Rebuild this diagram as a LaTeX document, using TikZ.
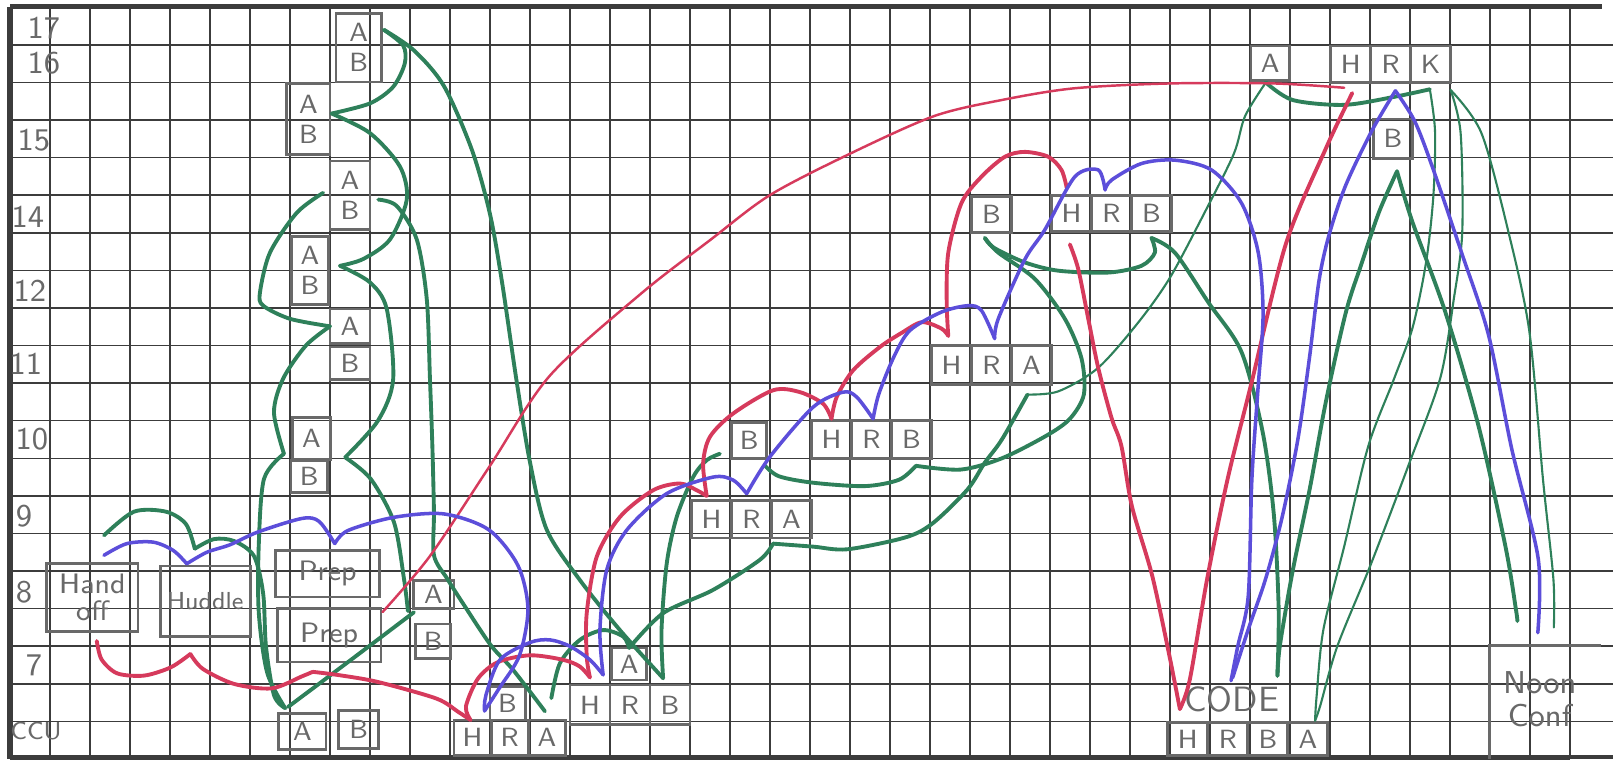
\documentclass[tikz,border=0pt]{standalone}
\usepackage{tikz}
\usetikzlibrary{positioning}
\definecolor{pengreen}{RGB}{46,128,90}
\definecolor{penred}{RGB}{214,58,92}
\definecolor{penblue}{RGB}{92,78,218}
\definecolor{pencil}{RGB}{105,105,105}
\definecolor{gridgray}{RGB}{60,60,60}
\newcommand{\cellw}{0.4cm}
\newcommand{\cellh}{0.376cm}
\begin{document}
\begin{tikzpicture}[x=0.4cm,y=0.376cm,
    cellbox/.style={draw=pencil,line width=0.8pt,inner sep=0pt,outer sep=0pt,
      minimum width=\cellw,minimum height=\cellh,font=\sffamily\fontsize{7.5}{8.5}\selectfont,text=pencil,align=center},
    rowcell/.style={cellbox,minimum width=\cellw,minimum height=\cellh},
    bigbox/.style={cellbox,font=\sffamily\fontsize{8}{7.5}\selectfont},
    rowlabel/.style={font=\sffamily\small,text=pencil,inner sep=0pt},
    greenpen/.style={draw=pengreen,line width=1.1pt,line cap=round,line join=round},
    thingreen/.style={greenpen,line width=0.6pt},
    redpen/.style={draw=penred,line width=1.1pt,line cap=round,line join=round},
    thinred/.style={redpen,line width=0.7pt},
    bluepen/.style={draw=penblue,line width=1pt,line cap=round,line join=round}]
  \useasboundingbox (-0.25,0.19) rectangle (40.08,-20.0);
  \fill[white] (-0.25,0.19) rectangle (40.08,-20.0);

  % grid paper
  \draw[gridgray,line width=0.45pt,xstep=1,ystep=1] (0,-20) grid (39,0);
  \foreach \k in {1,...,19} \draw[gridgray,line width=0.45pt] (39,-\k) -- (40.1,-\k);
  \draw[gridgray,line width=1.6pt] (0,0.02) -- (39.8,0.02);
  \draw[gridgray,line width=1.6pt] (0,0) -- (0,-20);
  \draw[gridgray,line width=1pt] (0,-19.95) -- (40.1,-19.95);

  % hours
  \node[rowlabel] (l17) at (0.85,-0.55) {17};
  \node[rowlabel] (l16) at (0.85,-1.5) {16};
  \node[rowlabel] (l15) at (0.6,-3.55) {15};
  \node[rowlabel] (l14) at (0.45,-5.58) {14};
  \node[rowlabel] (l12) at (0.5,-7.54) {12};
  \node[rowlabel] (l11) at (0.4,-9.5) {11};
  \node[rowlabel] (l10) at (0.55,-11.5) {10};
  \node[rowlabel] (l9) at (0.35,-13.55) {9};
  \node[rowlabel] (l8) at (0.35,-15.55) {8};
  \node[rowlabel] (l7) at (0.6,-17.5) {7};
  \node[rowlabel,font=\sffamily\scriptsize] (lccu) at (0.65,-19.25) {CCU};

  % left column
  \node[cellbox,minimum width=1.14*\cellw,minimum height=1.83*\cellh] (s1) at (8.72,-1.075) {A\\B};
  \node[cellbox,minimum width=1.08*\cellw,minimum height=1.9*\cellh] (s2) at (7.46,-2.98) {A\\B};
  \node[cellbox,minimum width=1.0*\cellw,minimum height=1.81*\cellh] (s3) at (8.5,-5.0) {A\\B};
  \node[cellbox,minimum width=0.92*\cellw,minimum height=1.81*\cellh] (s4) at (7.5,-7.0) {A\\B};
  \node[cellbox,minimum width=\cellw,minimum height=0.92*\cellh] (a5) at (8.5,-8.49) {A};
  \node[cellbox,minimum width=\cellw,minimum height=0.86*\cellh] (b5) at (8.5,-9.47) {B};
  \node[cellbox,minimum width=0.96*\cellw,minimum height=1.11*\cellh] (a10) at (7.54,-11.47) {A};
  \node[cellbox,minimum width=0.91*\cellw,minimum height=0.84*\cellh] (b10) at (7.48,-12.48) {B};
  \node[bigbox,minimum width=2.28*\cellw,minimum height=1.8*\cellh] (handoff) at (2.06,-15.7) {Hand\\off};
  \node[bigbox,minimum width=2.25*\cellw,minimum height=1.87*\cellh,font=\sffamily\fontsize{7}{7}\selectfont] (huddle) at (4.88,-15.8) {Huddle};
  \node[bigbox,minimum width=2.59*\cellw,minimum height=1.24*\cellh] (prep1) at (7.94,-15.07) {Prep};
  \node[bigbox,minimum width=2.59*\cellw,minimum height=1.42*\cellh] (prep2) at (7.98,-16.71) {Prep};
  \node[cellbox,minimum width=1.02*\cellw,minimum height=0.75*\cellh] (a8) at (10.59,-15.62) {A};
  \node[cellbox,minimum width=0.88*\cellw,minimum height=0.93*\cellh] (b8) at (10.58,-16.87) {B};
  \node[cellbox,minimum width=1.18*\cellw,minimum height=0.97*\cellh] (ccuA) at (7.31,-19.27) {A};
  \node[cellbox,minimum width=1.0*\cellw,minimum height=1.02*\cellh] (ccuB) at (8.72,-19.21) {B};

  % rows of H R A / H R B
  \node[rowcell,minimum width=0.93*\cellw,minimum height=0.94*\cellh] (hra1-h) at (11.565,-19.43) {H};
  \node[rowcell,minimum width=0.93*\cellw,minimum height=0.94*\cellh,right=0pt of hra1-h] (hra1-r) {R};
  \node[rowcell,minimum width=0.93*\cellw,minimum height=0.94*\cellh,right=0pt of hra1-r] (hra1-a) {A};
  \node[cellbox,minimum width=0.88*\cellw,minimum height=0.89*\cellh] (b1) at (12.44,-18.515) {B};

  \node[rowcell,minimum height=1.06*\cellh] (hrb1-h) at (14.5,-18.56) {H};
  \node[rowcell,minimum height=1.06*\cellh,right=0pt of hrb1-h] (hrb1-r) {R};
  \node[rowcell,minimum height=1.06*\cellh,right=0pt of hrb1-r] (hrb1-b) {B};
  \node[cellbox,minimum width=0.88*\cellw,minimum height=0.85*\cellh] (a2) at (15.48,-17.47) {A};

  \node[rowcell] (hra2-h) at (17.54,-13.62) {H};
  \node[rowcell,right=0pt of hra2-h] (hra2-r) {R};
  \node[rowcell,right=0pt of hra2-r] (hra2-a) {A};
  \node[cellbox,minimum width=0.88*\cellw,minimum height=0.96*\cellh] (b2) at (18.48,-11.52) {B};

  \node[rowcell] (hrb2-h) at (20.54,-11.5) {H};
  \node[rowcell,right=0pt of hrb2-h] (hrb2-r) {R};
  \node[rowcell,right=0pt of hrb2-r] (hrb2-b) {B};

  \node[rowcell,minimum height=1.05*\cellh] (hra3-h) at (23.54,-9.52) {H};
  \node[rowcell,minimum height=1.05*\cellh,right=0pt of hra3-h] (hra3-r) {R};
  \node[rowcell,minimum height=1.05*\cellh,right=0pt of hra3-r] (hra3-a) {A};
  \node[cellbox,minimum width=\cellw,minimum height=0.96*\cellh] (b3) at (24.54,-5.52) {B};

  \node[rowcell,minimum height=0.96*\cellh] (hrb3-h) at (26.54,-5.48) {H};
  \node[rowcell,minimum height=0.96*\cellh,right=0pt of hrb3-h] (hrb3-r) {R};
  \node[rowcell,minimum height=0.96*\cellh,right=0pt of hrb3-r] (hrb3-b) {B};

  \node[cellbox,minimum width=0.96*\cellw,minimum height=0.91*\cellh] (a4) at (31.51,-1.49) {A};
  \node[rowcell,minimum height=0.97*\cellh] (hrk-h) at (33.52,-1.52) {H};
  \node[rowcell,minimum height=0.97*\cellh,right=0pt of hrk-h] (hrk-r) {R};
  \node[rowcell,minimum height=0.97*\cellh,right=0pt of hrk-r] (hrk-k) {K};
  \node[cellbox,minimum width=0.96*\cellw,minimum height=1.05*\cellh] (b4) at (34.58,-3.5) {B};

  % code and noon conference
  \node[font=\sffamily\fontsize{10}{11}\selectfont,text=pencil,inner sep=0pt] (code) at (30.55,-18.42) {CODE};
  \node[rowcell,minimum height=0.88*\cellh] (hrba-h) at (29.45,-19.47) {H};
  \node[rowcell,minimum height=0.88*\cellh,right=0pt of hrba-h] (hrba-r) {R};
  \node[rowcell,minimum height=0.88*\cellh,right=0pt of hrba-r] (hrba-b) {B};
  \node[rowcell,minimum height=0.88*\cellh,right=0pt of hrba-b] (hrba-a) {A};
  \node[inner sep=0pt,outer sep=0pt,minimum width=2.78*\cellw,minimum height=3.0*\cellh] (noonbox) at (38.39,-18.49) {};
  \draw[pencil,line width=0.8pt] (noonbox.south west) |- (noonbox.north east);
  \node[font=\sffamily\fontsize{9}{9.5}\selectfont,text=pencil,align=center] (noon) at (38.25,-18.4) {Noon\\Conf};

  % green: left column
  \draw[greenpen] plot[smooth] coordinates {([shift={(0.06,0.47)}]s1.east) (9.83,-1.02) (9.87,-1.5) (9.58,-2.12) (9.0,-2.56) ([shift={(0.04,0.15)}]s2.east)};
  \draw[greenpen] plot[smooth] coordinates {([shift={(0.06,0.47)}]s1.east) (10.1,-1.15) (10.85,-2.1) (11.55,-3.8) (12.0,-5.5) (12.3,-7.3) (12.66,-9.9) (13.0,-12.1) (13.42,-13.9) (14.25,-15.24) (15.25,-16.57) ([shift={(-0.17,0.18)}]hrb1-b.north)};
  \draw[greenpen] plot[smooth] coordinates {([shift={(0.04,0.15)}]s2.east) (9.0,-3.35) (9.75,-4.24) (9.92,-5.12) (9.5,-6.18) (8.83,-6.7) ([shift={(0.29,0.12)}]s4.east)};
  \draw[greenpen] plot[smooth] coordinates {([shift={(0.29,0.12)}]s4.east) (9.0,-7.32) (9.42,-8.03) (9.58,-9.9) (9.2,-11.0) ([shift={(0.36,0.05)}]a10.south east)};
  \draw[greenpen] plot[smooth] coordinates {([shift={(0.36,0.05)}]a10.south east) (9.02,-12.55) (9.6,-13.7) (9.85,-15.2) ([shift={(-0.13,-0.07)}]a8.south west)};
  \draw[greenpen] plot[smooth] coordinates {([shift={(0.02,-0.1)}]a8.south west) (9.1,-16.9) (8.0,-17.78) ([shift={(0.23,0.17)}]ccuA.north west)};
  \draw[greenpen] plot[smooth] coordinates {([shift={(-0.17,0.06)}]s3.west) (7.17,-5.47) (6.5,-6.53) (6.25,-7.59) (6.33,-7.94) (7.0,-8.29) (a5.west)};
  \draw[greenpen] plot[smooth] coordinates {(a5.west) (7.4,-9.0) (6.83,-9.88) (6.6,-10.78) ([shift={(-0.21,-0.41)}]a10.west)};
  \draw[greenpen] plot[smooth] coordinates {([shift={(-0.21,-0.41)}]a10.west) (6.35,-12.55) (6.22,-14.3) (6.22,-16.1) (6.43,-17.7) ([shift={(0.16,0.14)}]ccuA.north west)};
  \draw[greenpen] plot[smooth] coordinates {([shift={(0.29,0.75)}]handoff.north) (3.1,-13.42) (3.9,-13.42) (4.4,-13.75) ([shift={(-0.26,0.46)}]huddle.north)};
  \draw[greenpen] plot[smooth] coordinates {([shift={(-0.26,0.46)}]huddle.north) (5.1,-14.15) (5.6,-14.2) (6.1,-14.6) (6.33,-15.6) (6.4,-17.0) (6.6,-18.3) ([shift={(0.16,0.14)}]ccuA.north west)};
  \draw[greenpen] plot[smooth] coordinates {([shift={(0.21,-0.12)}]s3.east) (9.67,-5.29) (10.17,-6.18) (10.42,-7.76) (10.5,-9.88) (10.56,-11.66) (10.6,-13.43) (10.6,-14.58) (10.93,-15.2) (11.35,-15.9) (12.02,-16.97) (12.58,-17.63) ([shift={(-0.05,0.23)}]hra1-a.north)};

  % green: A and B hand-offs
  \draw[greenpen] plot[smooth] coordinates {([shift={(0.11,0.58)}]hra1-a.north) (13.75,-17.45) (14.25,-16.83) (14.83,-16.57) (15.33,-16.74) (a2.north)};
  \draw[greenpen] plot[smooth] coordinates {(a2.north) (16.33,-16.12) (17.58,-15.5) (18.75,-14.7) ([shift={(-0.46,-0.15)}]hra2-a.south)};
  \draw[greenpen] plot[smooth] coordinates {([shift={(-0.46,-0.15)}]hra2-a.south) (20.08,-14.35) (20.94,-14.42) (22.4,-14.1) (23.08,-13.72) (23.94,-12.83) (24.37,-12.12) (24.8,-11.5) ([shift={(-0.1,-0.26)}]hra3-a.south)};
  \draw[thingreen] plot[smooth] coordinates {([shift={(-0.1,-0.26)}]hra3-a.south) (26.21,-10.22) (27.2,-9.6) (28.2,-8.4) (29.0,-7.2) (29.9,-5.4) (30.6,-3.9) (30.88,-2.9) ([shift={(-0.11,-0.06)}]a4.south)};
  \draw[greenpen] plot[smooth] coordinates {([shift={(-0.11,-0.06)}]a4.south) (32.07,-2.47) (33.36,-2.6) (34.64,-2.38) ([shift={(-0.02,-0.18)}]hrk-k.south)};
  \draw[thingreen] plot[smooth] coordinates {([shift={(-0.02,-0.18)}]hrk-k.south) (35.63,-3.3) (35.59,-5.0) (35.41,-6.76) (35.07,-8.52) (34.6,-9.9) (33.96,-11.68) (33.36,-14.34) (32.84,-16.55) (32.67,-18.32) ([shift={(0.18,0.05)}]hrba-a.north)};
  \draw[thingreen] plot[smooth] coordinates {([shift={(0,-0.2)}]hrk-k.south east) (36.27,-3.35) (36.31,-6.0) (36.1,-7.76) (35.76,-9.87) (34.99,-12.12) (34.04,-14.78) (33.19,-16.99) (32.76,-18.58) ([shift={(0.18,0.05)}]hrba-a.north)};
  \draw[thingreen] plot[smooth] coordinates {([shift={(0,-0.2)}]hrk-k.south east) (36.79,-3.35) (37.47,-6.0) (37.99,-8.64) (38.33,-12.57) (38.59,-15.22) ([shift={(0.21,0.49)}]noonbox.north)};
  \draw[greenpen] plot[smooth] coordinates {([shift={(0.1,-0.34)}]b4.south) (34.23,-5.45) (33.8,-6.8) (33.4,-8.12) (32.9,-10.5) (32.5,-12.8) (32.07,-15.0) (31.75,-16.99) ([shift={(1.14,0.27)}]code.north)};
  \draw[greenpen] plot[smooth] coordinates {([shift={(0.1,-0.34)}]b4.south) (35.06,-5.7) (35.89,-8.12) (36.72,-11.15) (37.39,-14.34) (37.65,-16.0) ([shift={(-0.7,0.66)}]noonbox.north)};
  \draw[greenpen] plot[smooth] coordinates {([shift={(0,-0.18)}]hrb3-b.south) (29.125,-6.53) (29.96,-7.85) (30.79,-9.17) (31.32,-11.3) (31.6,-13.5) (31.72,-16.0) ([shift={(1.14,0.27)}]code.north)};
  \draw[greenpen] plot[smooth] coordinates {([shift={(-0.165,-0.14)}]b3.south) (24.6,-6.4) (25.375,-6.79) (26.21,-7.01) (27.46,-7.06) (28.29,-6.88) (28.625,-6.53) ([shift={(0,-0.18)}]hrb3-b.south)};
  \draw[greenpen] plot[smooth] coordinates {([shift={(-0.165,-0.14)}]b3.south) (24.71,-6.53) (25.625,-7.23) (26.375,-8.29) (26.79,-9.34) (26.85,-10.3) (26.5,-10.95) (25.91,-11.4) (24.8,-12.0) (23.77,-12.3) ([shift={(0.11,-0.2)}]hrb2-b.south)};
  \draw[greenpen] plot[smooth] coordinates {([shift={(0.11,-0.2)}]hrb2-b.south) (22.23,-12.57) (21.37,-12.74) (20.08,-12.65) (19.23,-12.48) ([shift={(-0.04,-0.2)}]b2.south east)};
  \draw[greenpen] plot[smooth] coordinates {([shift={(-0.29,-0.36)}]b2.west) (17.42,-12.05) (17.08,-12.5) (16.67,-13.56) (16.42,-14.8) (16.29,-16.57) ([shift={(-0.17,0.18)}]hrb1-b.north)};

  % red: H hand-offs
  \draw[redpen] plot[smooth] coordinates {([shift={(0.11,-0.26)}]handoff.south) (2.29,-17.35) (2.68,-17.72) (3.35,-17.78) (4.02,-17.56) ([shift={(-0.37,-0.47)}]huddle.south)};
  \draw[redpen] plot[smooth] coordinates {([shift={(-0.37,-0.47)}]huddle.south) (4.82,-17.6) (5.6,-18.0) (6.54,-18.12) (7.3,-17.8) ([shift={(-0.41,-0.26)}]prep2.south)};
  \draw[redpen] plot[smooth] coordinates {([shift={(-0.41,-0.26)}]prep2.south) (8.24,-17.77) (9.2,-17.95) (10.66,-18.39) (11.2,-18.74) ([shift={(-0.05,0)}]hra1-h.north)};
  \draw[redpen] plot[smooth] coordinates {([shift={(-0.05,0)}]hra1-h.north) (11.4,-18.6) (11.7,-17.86) (12.2,-17.42) (13.0,-17.24) (13.83,-17.36) (14.25,-17.54) ([shift={(0,0.2)}]hrb1-h.north)};
  \draw[redpen] plot[smooth] coordinates {([shift={(0,0.2)}]hrb1-h.north) (14.42,-17.27) (14.42,-16.12) (14.67,-14.62) (15.25,-13.56) (16.08,-12.85) (16.75,-12.67) (17.17,-12.85) ([shift={(-0.12,0.12)}]hra2-h.north)};
  \draw[redpen] plot[smooth] coordinates {([shift={(-0.12,0.12)}]hra2-h.north) (17.33,-12.14) (17.5,-11.43) (18.08,-10.81) (19.08,-10.19) (19.75,-10.24) (20.33,-10.55) ([shift={(0,0.05)}]hrb2-h.north)};
  \draw[redpen] plot[smooth] coordinates {([shift={(0,0.05)}]hrb2-h.north) (20.67,-10.37) (21.08,-9.66) (21.75,-9.04) (22.3,-8.66) (22.8,-8.38) (23.29,-8.55) ([shift={(-0.08,0.25)}]hra3-h.north)};
  \draw[redpen] plot[smooth] coordinates {([shift={(-0.08,0.25)}]hra3-h.north) (23.42,-7.85) (23.46,-6.53) (23.79,-5.21) (24.29,-4.51) (24.875,-3.98) (25.375,-3.85) (25.96,-3.98) (26.29,-4.33) ([shift={(-0.12,0.2)}]hrb3-h.north)};
  \draw[redpen] plot[smooth] coordinates {([shift={(-0.04,-0.35)}]hrb3-h.south) (26.71,-6.97) (26.96,-8.29) (27.21,-9.6) (27.54,-10.92) (27.79,-11.68) (28.05,-13.27) (28.56,-15.13) (28.99,-17.26) ([shift={(-0.2,0.36)}]hrba-h.north)};
  \draw[redpen] plot[smooth] coordinates {([shift={(-0.2,0.36)}]hrba-h.north) (29.5,-17.88) (29.93,-15.22) (30.44,-12.57) (31.04,-10.0) (31.9,-6.3) (32.9,-3.76) ([shift={(0.04,-0.28)}]hrk-h.south)};
  \draw[thinred] plot[smooth] coordinates {([shift={(0.04,-0.09)}]prep2.north east) (10.5,-14.6) (12.0,-12.2) (13.5,-9.8) (15.8,-7.6) (17.5,-6.2) (19.0,-5.0) (21.0,-3.9) (23.1,-2.9) (24.8,-2.47) (26.6,-2.16) (29.0,-2.03) (31.6,-2.03) ([shift={(-0.16,-0.14)}]hrk-h.south)};

  % blue: R hand-offs
  \draw[bluepen] plot[smooth] coordinates {([shift={(0.29,0.22)}]handoff.north) (2.92,-14.27) (3.58,-14.23) (4.08,-14.45) ([shift={(-0.46,0.06)}]huddle.north)};
  \draw[bluepen] plot[smooth] coordinates {([shift={(-0.46,0.06)}]huddle.north) (4.92,-14.5) (5.5,-14.3) (6.2,-13.96) (7.3,-13.6) (7.73,-13.68) ([shift={(0.18,0.18)}]prep1.north)};
  \draw[bluepen] plot[smooth] coordinates {([shift={(0.18,0.18)}]prep1.north) (8.45,-13.92) (9.6,-13.57) (10.85,-13.48) (11.97,-13.9) (12.7,-14.85) (12.95,-16.0) (12.74,-17.24) (12.23,-18.12) ([shift={(0.3,0.24)}]hra1-h.north)};
  \draw[bluepen] plot[smooth] coordinates {([shift={(0.3,0.24)}]hra1-h.north) (11.9,-18.3) (12.25,-17.36) (13.0,-16.9) (13.5,-16.83) (14.0,-17.0) (14.5,-17.36) ([shift={(-0.67,0.27)}]hrb1-r.north)};
  \draw[bluepen] plot[smooth] coordinates {([shift={(-0.67,0.27)}]hrb1-r.north) (14.75,-16.57) (14.92,-14.97) (15.42,-13.91) (16.42,-12.94) (17.58,-12.5) (18.08,-12.58) ([shift={(-0.12,0.18)}]hra2-r.north)};
  \draw[bluepen] plot[smooth] coordinates {([shift={(-0.12,0.18)}]hra2-r.north) (19.0,-11.96) (20.08,-10.64) (20.83,-10.24) (21.17,-10.37) ([shift={(0.04,0.05)}]hrb2-r.north)};
  \draw[bluepen] plot[smooth] coordinates {([shift={(0.04,0.05)}]hrb2-r.north) (21.72,-10.3) (22.1,-9.3) (22.5,-8.6) (23.29,-8.11) (23.96,-7.94) (24.29,-8.07) ([shift={(0.08,0.18)}]hra3-r.north)};
  \draw[bluepen] plot[smooth] coordinates {([shift={(0.08,0.18)}]hra3-r.north) (24.71,-8.29) (25.375,-6.71) (25.875,-5.92) (26.625,-4.51) (27.21,-4.33) ([shift={(-0.16,0.14)}]hrb3-r.north)};
  \draw[bluepen] plot[smooth] coordinates {([shift={(-0.16,0.14)}]hrb3-r.north) (27.54,-4.6) (28.29,-4.16) (29.125,-4.07) (30.04,-4.33) (30.79,-5.21) (31.21,-6.53) (31.33,-8.2) (31.2,-10.2) (31.05,-12.57) (30.96,-15.66) (30.7,-16.99) ([shift={(-0.02,0.14)}]code.north)};
  \draw[bluepen] plot[smooth] coordinates {([shift={(0.12,-0.22)}]hrk-r.south) (34.06,-3.27) (33.4,-4.73) (32.98,-6.06) (32.73,-7.27) (32.49,-9.33) (32.2,-11.5) (31.8,-13.6) (31.39,-15.22) (30.96,-16.55) ([shift={(0.02,0.22)}]code.north)};
  \draw[bluepen] plot[smooth] coordinates {([shift={(0.12,-0.22)}]hrk-r.south) (35.12,-3.03) (35.56,-4.24) (36.3,-6.55) (36.97,-8.73) (37.55,-11.76) (38.21,-14.67) ([shift={(-0.19,0.35)}]noonbox.north)};
\end{tikzpicture}
\end{document}
